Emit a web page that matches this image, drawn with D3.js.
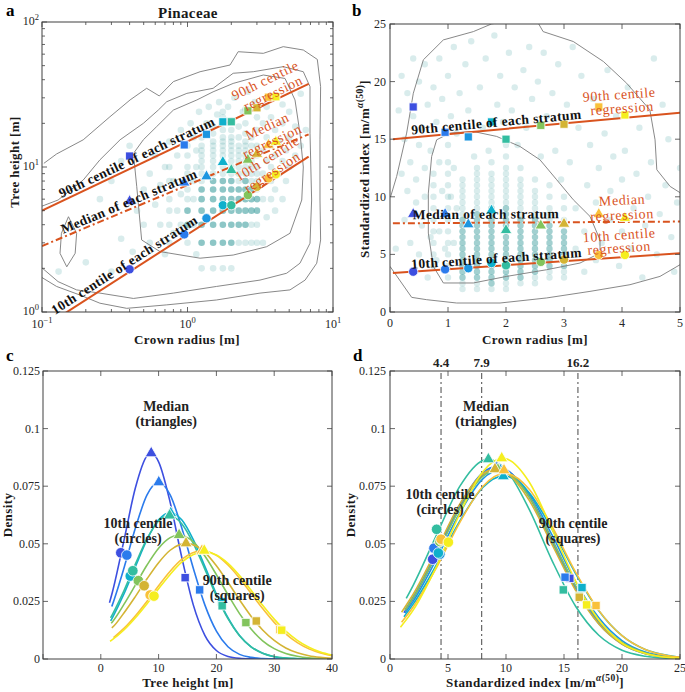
<!DOCTYPE html>
<html lang="en">
<head>
<meta charset="utf-8">
<script src="https://d3js.org/d3.v7.min.js"></script>
<style>
  body { margin: 0; background: white; }
  svg { font-family: 'Liberation Serif', 'Times New Roman', serif; background: white; }
  .frame { fill: none; stroke: #404040; stroke-width: 1; }
  .tk { stroke: #404040; stroke-width: 0.8; }
  .tl { font-size: 12px; fill: #262626; }
  .axl { font-size: 13px; font-weight: bold; letter-spacing: 0.4px; fill: #1a1a1a; }
  .note { font-size: 13.5px; font-weight: bold; letter-spacing: 0.4px; fill: #111; }
  .cnote { font-size: 14px; font-weight: bold; fill: #222; }
  .reg-note { font-size: 14px; fill: #d9531e; letter-spacing: 0.6px; }
  .contour { fill: none; stroke: #7a7a7a; stroke-width: 0.9; }
  .reg { fill: none; stroke: #d9531e; stroke-width: 2; }
  .dens { fill: none; stroke-width: 1.6; }
</style>
</head>
<body>
<svg width="685" height="692"></svg>
<script>
// colours of the nine crown-radius strata (blue -> yellow)
const strataColors = ["#3d4fe0", "#2b7bec", "#1d96e0", "#0fb0cc", "#33bda0", "#82c45c", "#d4b434", "#f9c13a", "#f5ee1e"];
const regColor = "#d9531e";
const dotColor = "#3f9f9f";

// ---------- panel a: tree height vs crown radius (log-log) ----------
const aRadius = [0.4, 0.95, 1.35, 1.75, 2.0, 2.6, 3.0, 3.6, 4.05];
const aP90 = [11.9, 14.2, 16.8, 20.5, 20.5, 24.4, 25.6, 30.3, 30.5];
const aP50 = [5.8, 7.8, 8.6, 10.8, 9.5, 11.2, 12.3, 14.2, 14.9];
const aP10 = [1.97, 3.43, 4.43, 5.45, 5.45, 6.4, 7.3, 8.35, 8.9];
const aReg90 = [[0.1, 5.0], [6.8, 37.4]];
const aReg50 = [[0.1, 2.85], [6.8, 16.8]];
const aReg10 = [[0.1, 0.775], [6.8, 11.8]];
const aXTicks = [0.1, 1, 10], aXExp = ["\u22121", "0", "1"];
const aYTicks = [1, 10, 100], aYExp = ["0", "1", "2"];

const aColumns = [
  {r: 0.75, h: [3, 4, 5, 6, 8, 10], dense: []},
  {r: 1.0, h: [3, 4, 5, 6, 7, 8, 9, 10, 12, 14], dense: [4, 5]},
  {r: 1.25, h: [2, 3, 4, 5, 6, 7, 8, 9, 10, 11, 12, 13, 14, 16], dense: [3, 4, 5, 6, 7]},
  {r: 1.5, h: [2, 3, 4, 5, 6, 7, 8, 9, 10, 11, 12, 13, 14, 15, 17, 19], dense: [3, 4, 5, 6, 7, 8]},
  {r: 1.75, h: [2, 3, 4, 5, 6, 7, 8, 9, 10, 11, 12, 13, 14, 15, 16, 18, 20, 22, 24], dense: [3, 4, 5, 6, 7, 8]},
  {r: 2.0, h: [2, 3, 4, 5, 6, 7, 8, 9, 10, 11, 12, 13, 14, 15, 16, 18, 21], dense: [3, 4, 5, 6, 7, 8]},
  {r: 2.25, h: [3, 4, 5, 6, 7, 8, 9, 10, 11, 12, 13, 14, 16, 19], dense: [4, 5, 6, 7]},
  {r: 2.5, h: [3, 4, 5, 6, 7, 8, 9, 10, 11, 12, 13, 14, 15, 17, 20, 25], dense: [4, 5, 6, 7, 8]},
  {r: 2.75, h: [3, 4, 5, 6, 7, 8, 9, 10, 11, 12, 14, 16], dense: [5, 6, 7]},
  {r: 3.0, h: [3, 4, 5, 6, 7, 8, 9, 10, 12, 14, 18, 22], dense: [5, 6]}
];
const aSparse = [
  [0.13, 1.9], [0.2, 2.2], [0.25, 6], [0.3, 1.9], [0.3, 8], [0.35, 3.2], [0.35, 11], [0.4, 14], [0.42, 2.6],
  [0.45, 5], [0.5, 4], [0.5, 7], [0.55, 3], [0.55, 9], [0.6, 5.5], [0.6, 12], [0.65, 4], [0.65, 7.5],
  [0.7, 2.5], [0.7, 10], [0.75, 15], [0.8, 3.5], [0.8, 8], [0.85, 5], [0.85, 12], [0.9, 4], [0.9, 6.5],
  [0.9, 18], [1.05, 20], [1.1, 4], [1.1, 6], [1.1, 8], [1.1, 16], [1.15, 2.5], [1.15, 10], [1.15, 13],
  [1.2, 24], [1.35, 20], [1.4, 26], [1.6, 23], [1.65, 28], [1.9, 26], [2.1, 30], [2.4, 24], [2.6, 33],
  [2.9, 28], [3.3, 3], [3.3, 6], [3.3, 9], [3.3, 13], [3.3, 20], [3.5, 4.5], [3.5, 11], [3.5, 16],
  [3.5, 26], [3.75, 6], [3.75, 8], [3.75, 10], [3.75, 14], [3.75, 22], [4.0, 5], [4.0, 7], [4.0, 12],
  [4.0, 18], [4.0, 30], [4.25, 9], [4.25, 15], [4.5, 6], [4.5, 11], [4.5, 20], [4.5, 27], [4.75, 8],
  [4.75, 13], [5.0, 10], [5.0, 16], [5.0, 24], [5.5, 12], [5.5, 19], [6.0, 14], [6.0, 32], [6.5, 18]
];
const aContours = [
  [[0.103, 10.6], [0.126, 12.3], [0.192, 15.4], [0.293, 22.2], [0.403, 29.0], [0.524, 34.9], [0.64, 30.9],
   [0.8, 38.8], [1.22, 45.4], [1.96, 50.5], [2.23, 62.4], [3.32, 60.8], [4.55, 67.6], [6.25, 64.1],
   [7.8, 55.2], [8.22, 35.8], [8.14, 15.4], [8.14, 5.92], [8.22, 3.14], [7.73, 2.17], [6.43, 1.66],
   [5.06, 1.42], [3.15, 1.35], [1.58, 1.21], [0.72, 1.12], [0.382, 1.06], [0.25, 1.15], [0.182, 1.31],
   [0.126, 1.5], [0.098, 1.75]],
  [[0.098, 5.33], [0.129, 5.92], [0.192, 8.13], [0.25, 11.2], [0.344, 15.4], [0.497, 20.0], [0.63, 24.7],
   [0.72, 28.2], [0.99, 32.2], [1.5, 34.9], [2.06, 44.3], [2.83, 45.4], [4.55, 49.2], [6.25, 45.4],
   [6.95, 35.8], [6.95, 17.1], [7.13, 5.92], [6.95, 2.98], [5.93, 2.17], [4.8, 1.85], [3.15, 1.66],
   [1.58, 1.5], [0.8, 1.35], [0.425, 1.24], [0.25, 1.35], [0.173, 1.42], [0.129, 1.62], [0.098, 2.05]],
  [[0.425, 12.4], [0.448, 7.31], [0.484, 3.14], [0.647, 2.61], [1.22, 2.35], [2.06, 2.47], [3.5, 2.82],
   [5.06, 3.49], [6.1, 5.92], [6.25, 10.0], [5.93, 17.1], [5.48, 29.0], [4.68, 40.8], [3.32, 43.1],
   [2.06, 37.7], [1.5, 33.0], [1.16, 29.0], [0.8, 24.7], [0.614, 19.0], [0.497, 15.4], [0.425, 12.4]],
  [[0.136, 3.49], [0.152, 4.54], [0.173, 3.49], [0.169, 2.54], [0.148, 2.05], [0.133, 2.54], [0.136, 3.49]]
];

// ---------- panel b: standardized index vs crown radius ----------
const bRadius = [0.4, 0.95, 1.35, 1.75, 2.0, 2.6, 3.0, 3.6, 4.05];
const bP90 = [17.8, 15.6, 15.2, 16.5, 15.0, 16.2, 16.3, 17.8, 17.1];
const bP50 = [8.5, 8.5, 7.6, 8.8, 7.1, 7.5, 7.65, 8.5, 8.15];
const bP10 = [3.5, 3.7, 3.8, 4.25, 4.05, 4.35, 4.55, 4.95, 4.95];
const bReg90 = [[0.05, 15.0], [5, 17.3]];
const bReg50 = [[0.05, 7.7], [5, 7.85]];
const bReg10 = [[0.05, 3.38], [5, 5.1]];
const bXTicks = [0, 1, 2, 3, 4, 5];
const bYTicks = [0, 5, 10, 15, 20, 25];

const bColumns = [
  {x: 0.75, v: [4, 5, 6, 7, 8, 9, 10, 11, 12], dense: []},
  {x: 1.0, v: [3, 4, 5, 6, 7, 8, 9, 10, 11, 12, 13], dense: []},
  {x: 1.25, v: [2, 2.5, 3, 3.5, 4, 4.5, 5, 5.5, 6, 6.5, 7, 7.5, 8, 8.5, 9, 9.5, 10, 10.5, 11, 11.5], dense: [3, 3.5, 4, 4.5, 5, 5.5, 6, 6.5, 7, 7.5, 8]},
  {x: 1.5, v: [2, 2.5, 3, 3.5, 4, 4.5, 5, 5.5, 6, 6.5, 7, 7.5, 8, 8.5, 9, 9.5, 10, 10.5, 11, 11.5, 12, 12.5], dense: [3, 3.5, 4, 4.5, 5, 5.5, 6, 6.5, 7, 7.5, 8, 8.5]},
  {x: 1.75, v: [2, 2.5, 3, 3.5, 4, 4.5, 5, 5.5, 6, 6.5, 7, 7.5, 8, 8.5, 9, 9.5, 10, 10.5, 11, 11.5, 12, 13], dense: [2.5, 3, 3.5, 4, 4.5, 5, 5.5, 6, 6.5, 7, 7.5, 8, 8.5, 9]},
  {x: 2.0, v: [2, 2.5, 3, 3.5, 4, 4.5, 5, 5.5, 6, 6.5, 7, 7.5, 8, 8.5, 9, 9.5, 10, 10.5, 11, 11.5, 12, 12.5, 13.5, 14.5], dense: [3, 3.5, 4, 4.5, 5, 5.5, 6, 6.5, 7, 7.5, 8, 8.5, 9]},
  {x: 2.25, v: [2.5, 3, 3.5, 4, 4.5, 5, 5.5, 6, 6.5, 7, 7.5, 8, 8.5, 9, 9.5, 10, 10.5, 11, 11.5, 12.5], dense: [3, 3.5, 4, 4.5, 5, 5.5, 6, 6.5, 7, 7.5, 8]},
  {x: 2.5, v: [2.5, 3, 3.5, 4, 4.5, 5, 5.5, 6, 6.5, 7, 7.5, 8, 8.5, 9, 9.5, 10, 10.5, 11.5], dense: [3.5, 4, 4.5, 5, 5.5, 6, 6.5, 7, 7.5, 8]},
  {x: 2.75, v: [3, 3.5, 4, 4.5, 5, 5.5, 6, 6.5, 7, 7.5, 8, 8.5, 9, 10, 11], dense: [4, 4.5, 5, 5.5, 6, 6.5, 7, 7.5]},
  {x: 3.0, v: [3, 3.5, 4, 4.5, 5, 5.5, 6, 6.5, 7, 8, 9, 10], dense: [4, 4.5, 5, 5.5, 6, 6.5, 7]}
];
const bSparse = [
  [0.1, 5.5], [0.15, 17.5], [0.2, 12], [0.2, 20.5], [0.25, 8], [0.25, 15], [0.3, 10.5], [0.3, 19],
  [0.35, 6], [0.35, 13], [0.4, 17], [0.4, 22], [0.45, 9.5], [0.45, 11.5], [0.5, 5], [0.5, 14.5], [0.5, 20],
  [0.55, 7.5], [0.55, 16], [0.6, 10], [0.6, 12.5], [0.6, 21.5], [0.65, 3], [0.65, 18], [0.7, 6.5],
  [0.7, 14], [0.75, 19.5], [0.8, 4.5], [0.8, 16.5], [0.85, 7], [0.85, 13], [0.85, 22], [0.9, 10.5],
  [0.9, 18.5], [0.95, 5.5], [1.0, 14.5], [1.0, 20.5], [1.05, 10], [1.05, 17], [1.1, 6], [1.1, 12.5],
  [1.1, 23], [1.15, 9], [1.15, 15.5], [1.2, 19], [1.3, 21.5], [1.35, 17.5], [1.4, 23.5], [1.45, 13.5],
  [1.55, 19.5], [1.6, 16], [1.65, 22], [1.7, 14], [1.8, 24], [1.85, 18], [1.9, 20.5], [1.95, 16.5],
  [2.05, 22.5], [2.1, 17.5], [2.15, 19.5], [2.2, 14.5], [2.3, 21], [2.35, 16], [2.4, 23], [2.45, 18.5],
  [2.55, 20], [2.6, 13.5], [2.65, 22.5], [2.7, 17], [2.8, 19], [2.85, 14], [2.9, 21.5], [2.95, 11.5],
  [3.05, 18], [3.1, 13], [3.15, 23], [3.2, 5.5], [3.2, 9], [3.25, 16], [3.3, 20.5], [3.35, 3.5],
  [3.35, 7], [3.4, 11], [3.45, 14.5], [3.5, 18.5], [3.55, 4.5], [3.55, 9.5], [3.6, 12.5], [3.65, 6],
  [3.7, 15.5], [3.75, 21], [3.8, 8], [3.8, 10.5], [3.85, 13.5], [3.9, 17], [3.95, 4], [4.0, 7],
  [4.0, 11.5], [4.05, 14], [4.1, 19.5], [4.15, 5.5], [4.2, 9], [4.25, 12], [4.3, 16], [4.35, 3],
  [4.4, 7.5], [4.45, 10], [4.5, 13], [4.55, 22], [4.6, 5], [4.65, 8.5], [4.7, 18], [4.75, 11],
  [4.8, 15], [4.85, 6.5], [4.9, 3.5], [4.95, 9.5], [5.0, 12.5]
];
const bContours = [
  [[0.01, 10.0], [0.115, 11.77], [0.287, 15.53], [0.402, 18.99], [0.575, 21.89], [0.92, 23.62],
   [1.437, 24.34], [1.753, 25.01], [2.13, 25.3], [2.53, 25.3], [2.64, 24.34], [3.16, 23.48], [3.68, 21.74],
   [4.08, 19.86], [4.48, 17.55], [4.57, 14.95], [4.6, 12.35], [4.83, 10.9], [5.05, 10.2]],
  [[5.05, 4.25], [4.655, 3.09], [4.138, 2.37], [3.448, 1.79], [2.701, 1.22], [1.897, 0.78], [1.149, 0.78],
   [0.632, 1.07], [0.374, 1.27], [0.0, 3.96]],
  [[0.805, 14.95], [1.034, 15.53], [1.437, 15.67], [1.839, 15.24], [2.241, 14.37], [2.586, 13.21],
   [2.874, 11.48], [3.161, 9.74], [3.448, 8.3], [3.621, 6.27], [3.621, 5.12], [3.276, 4.25], [2.701, 3.67],
   [2.011, 3.09], [1.437, 2.52], [0.92, 2.52], [0.747, 3.96], [0.661, 6.85], [0.661, 10.32], [0.718, 13.5],
   [0.805, 14.95]]
];

// ---------- panel c: densities of tree height ----------
const cColorIdx = [0, 1, 3, 4, 5, 6, 7, 8];
const cCurves = [
  [[1.5, .0244], [2, .0290], [4, .0514], [6, .0744], [8, .0882], [8.7, .0893], [10, .0856], [12, .0680], [14, .0442], [16, .0235], [18, .0103], [20, .0037], [22, .0011], [24, .0003], [26, .0001], [30, 0], [40, 0]],
  [[1.9, .0228], [2, .0235], [4, .0394], [6, .0570], [8, .0712], [10, .0767], [12, .0712], [14, .0570], [16, .0394], [18, .0235], [20, .0121], [22, .0053], [24, .0020], [26, .0007], [28, .0002], [30, 0], [40, 0]],
  [[1.7, .0165], [2, .0179], [4, .0282], [6, .0402], [8, .0518], [10, .0604], [12, .0635], [14, .0604], [16, .0518], [18, .0402], [20, .0282], [22, .0179], [24, .0102], [26, .0053], [28, .0025], [30, .0010], [32, .0004], [34, .0001], [36, 0], [40, 0]],
  [[1.7, .0179], [2, .0193], [4, .0296], [6, .0413], [8, .0522], [10, .0599], [11.8, .0623], [14, .0587], [16, .0502], [18, .0390], [20, .0274], [22, .0175], [24, .0101], [26, .0053], [28, .0025], [30, .0011], [32, .0004], [34, .0002], [36, 0], [40, 0]],
  [[1.8, .0155], [2, .0161], [4, .0237], [6, .0322], [8, .0408], [10, .0481], [12, .0527], [13.5, .0538], [16, .0508], [18, .0447], [20, .0366], [22, .0279], [24, .0197], [26, .0130], [28, .0079], [30, .0045], [32, .0024], [34, .0012], [36, .0005], [38, .0002], [40, .0001]],
  [[1.9, .0135], [2, .0137], [4, .0200], [6, .0272], [8, .0348], [10, .0418], [12, .0472], [14.8, .0502], [18, .0463], [20, .0405], [22, .0333], [24, .0257], [26, .0186], [28, .0126], [30, .0081], [32, .0048], [34, .0027], [36, .0014], [38, .0007], [40, .0003]],
  [[2.2, .0093], [4, .0133], [6, .0188], [8, .0251], [10, .0318], [12, .0381], [14, .0432], [17.5, .0470], [20, .0450], [22, .0408], [24, .0351], [26, .0285], [28, .0219], [30, .0159], [32, .0109], [34, .0071], [36, .0044], [38, .0026], [40, .0014]],
  [[1.6, .0077], [2, .0084], [4, .0126], [6, .0179], [8, .0240], [10, .0305], [12, .0367], [14, .0420], [17.9, .0465], [20, .0451], [22, .0415], [24, .0362], [26, .0298], [28, .0233], [30, .0173], [32, .0121], [34, .0081], [36, .0051], [38, .0030], [40, .0017]]
];
const cP10 = [[3.46, .0461], [4.5, .0451], [5.1, .036], [5.54, .0383], [6.5, .034], [7.5, .0318], [8.54, .0278], [9.2, .0273]];
const cP50 = [[8.72, .0893], [10.03, .0767], [12.1, .0633], [11.9, .0623], [13.55, .0538], [14.75, .0502], [17.5, .047], [17.9, .047]];
const cP90 = [[14.6, .0353], [17.1, .030], [20.9, .0249], [21.0, .0231], [25.1, .0158], [26.9, .0165], [31.0, .0128], [31.3, .0125]];
const cXTicks = [-10, 0, 10, 20, 30, 40], cXLabels = ["", "0", "10", "20", "30", "40"];
const densTicks = [0, 0.025, 0.05, 0.075, 0.1, 0.125];
const densLabels = ["0", "0.025", "0.05", "0.075", "0.1", "0.125"];

// ---------- panel d: densities of standardized index ----------
const dColorIdx = [0, 1, 2, 3, 4, 5, 6, 7, 8];
const dCurves = [
  [[1.2, .0201], [2, .0262], [4, .0452], [6, .0656], [8, .0800], [9.3, .0830], [10, .0821], [12, .0709], [14, .0515], [16, .0315], [18, .0162], [20, .0070], [22, .0025], [24, .0008], [25, .0004]],
  [[1.3, .0213], [2, .0269], [4, .0462], [6, .0667], [8, .0809], [9.2, .0835], [10, .0823], [12, .0703], [14, .0504], [16, .0304], [18, .0153], [20, .0065], [22, .0023], [24, .0007], [25, .0004]],
  [[1.3, .0199], [2, .0250], [4, .0433], [6, .0633], [8, .0782], [9.5, .0820], [10, .0816], [12, .0719], [14, .0535], [16, .0336], [18, .0179], [20, .0080], [22, .0030], [24, .0010], [25, .0005]],
  [[1.2, .0183], [2, .0238], [4, .0408], [6, .0597], [8, .0745], [9.8, .0795], [12, .0722], [14, .0560], [16, .0371], [18, .0209], [20, .0101], [22, .0041], [24, .0015], [25, .0008]],
  [[1.4, .0263], [2, .0320], [4, .0537], [6, .0748], [8, .0862], [8.5, .0867], [10, .0822], [12, .0649], [14, .0424], [16, .0229], [18, .0103], [20, .0038], [22, .0012], [24, .0003], [25, .0001]],
  [[1.3, .0211], [2, .0265], [4, .0453], [6, .0652], [8, .0793], [9.3, .0822], [10, .0813], [12, .0704], [14, .0514], [16, .0317], [18, .0165], [20, .0072], [22, .0027], [24, .0008], [25, .0004]],
  [[1.0, .0203], [2, .0281], [4, .0473], [6, .0671], [8, .0803], [9.1, .0824], [10, .0810], [12, .0689], [14, .0494], [16, .0298], [18, .0152], [20, .0065], [22, .0024], [24, .0007], [25, .0004]],
  [[1.0, .0160], [2, .0226], [4, .0396], [6, .0591], [8, .0749], [9.9, .0806], [12, .0737], [14, .0572], [16, .0377], [18, .0211], [20, .0101], [22, .0041], [24, .0014], [25, .0008]],
  [[0.9, .0138], [2, .0212], [4, .0401], [6, .0629], [8, .0813], [9.7, .0871], [10, .0869], [12, .0768], [14, .0560], [16, .0338], [18, .0169], [20, .0069], [22, .0024], [24, .0007], [25, .0003]]
];
const dP10 = [[3.68, .0433], [3.79, .0481], [4.3, .0455], [4.17, .046], [4.02, .0563], [4.3, .051], [4.45, .0516], [4.4, .052], [5.03, .0507]];
const dP50 = [[9.2, .0835], [9.2, .0835], [9.5, .082], [9.77, .0793], [8.48, .0867], [9.3, .0822], [9.05, .0824], [9.83, .0819], [9.63, .0871]];
const dP90 = [[15.5, .035], [15.09, .0355], [16.52, .0307], [16.55, .031], [14.94, .030], [16.3, .0272], [16.32, .0268], [17.76, .0232], [16.95, .0235]];
const dVLines = [4.4, 7.9, 16.2];
const dVLabels = ["4.4", "7.9", "16.2"];
const dXTicks = [0, 5, 10, 15, 20, 25];

// ---------- scales ----------
const svg = d3.select("svg");
const xA = d3.scaleLog().domain([0.1, 10]).range([42, 333]);
const yA = d3.scaleLog().domain([1, 100]).range([312, 22]);
const xB = d3.scaleLinear().domain([0, 5]).range([390, 680]);
const yB = d3.scaleLinear().domain([0, 25]).range([312, 24]);
const xC = d3.scaleLinear().domain([-10, 40]).range([43, 332]);
const yC = d3.scaleLinear().domain([0, 0.125]).range([659, 371]);
const xD = d3.scaleLinear().domain([0, 25]).range([390, 680]);
const yD = d3.scaleLinear().domain([0, 0.125]).range([659, 371]);

const defs = svg.append("defs");
function clipFor(id, x, y) {
  defs.append("clipPath").attr("id", id).append("rect")
    .attr("x", x.range()[0]).attr("y", y.range()[1])
    .attr("width", x.range()[1] - x.range()[0]).attr("height", y.range()[0] - y.range()[1]);
  return svg.append("g").attr("clip-path", `url(#${id})`);
}

function frame(x, y, xMajor, yMajor, xMinor, yMinor) {
  const g = svg.append("g");
  const [l, r] = x.range(), [b, t] = y.range();
  const tick = (x1, y1, x2, y2) => g.append("line").attr("class", "tk")
    .attr("x1", x1).attr("y1", y1).attr("x2", x2).attr("y2", y2);
  xMajor.forEach(v => { tick(x(v), b, x(v), b - 5); tick(x(v), t, x(v), t + 5); });
  xMinor.forEach(v => { tick(x(v), b, x(v), b - 3); tick(x(v), t, x(v), t + 3); });
  yMajor.forEach(v => { tick(l, y(v), l + 5, y(v)); tick(r, y(v), r - 5, y(v)); });
  yMinor.forEach(v => { tick(l, y(v), l + 3, y(v)); tick(r, y(v), r - 3, y(v)); });
  g.append("rect").attr("class", "frame").attr("x", l).attr("y", t).attr("width", r - l).attr("height", b - t);
  return g;
}

function dots(g, pts, x, y, r) {
  g.selectAll(null).data(pts).join("circle")
    .attr("cx", d => x(d[0])).attr("cy", d => y(d[1])).attr("r", r)
    .attr("fill", dotColor).attr("fill-opacity", d => 1 - Math.pow(0.8, d[2]));
}

function markers(g, pts, colors, type, size, x, y) {
  g.selectAll(null).data(pts).join("path")
    .attr("d", d3.symbol().type(type).size(size))
    .attr("transform", d => `translate(${x(d[0])},${y(d[1])})`)
    .attr("fill", (d, i) => colors[i]).attr("stroke", "white").attr("stroke-width", 0.8);
}

function regLine(g, seg, x, y, dashed) {
  g.append("path").attr("class", "reg")
    .attr("d", d3.line().x(d => x(d[0])).y(d => y(d[1]))(seg))
    .attr("stroke-dasharray", dashed ? "7,3,2,3" : null);
}

// text sitting along a regression line, at pixel x = px
function lineNote(seg, x, y, px, off, label) {
  const x0 = x(seg[0][0]), y0 = y(seg[0][1]), x1 = x(seg[1][0]), y1 = y(seg[1][1]);
  const py = y0 + (px - x0) * (y1 - y0) / (x1 - x0);
  const ang = Math.atan2(y1 - y0, x1 - x0) * 180 / Math.PI;
  svg.append("text").attr("class", "note").attr("text-anchor", "middle")
    .attr("transform", `translate(${px},${py}) rotate(${ang}) translate(0,${off})`).text(label);
}

function regNote(x, y, vx, vy, ang, label) {
  svg.append("text").attr("class", "reg-note").attr("text-anchor", "middle")
    .attr("transform", `translate(${x(vx)},${y(vy)}) rotate(${ang})`).attr("dy", "0.35em").text(label);
}

function twoLine(x, y, vx, vy, l1, l2) {
  const t = svg.append("text").attr("class", "cnote").attr("text-anchor", "middle");
  t.append("tspan").attr("x", x(vx)).attr("y", y(vy)).attr("dy", "0.35em").text(l1);
  t.append("tspan").attr("x", x(vx)).attr("y", y(vy) + 15).attr("dy", "0.35em").text(l2);
}

function powText(sel, exp) {
  sel.text("10");
  sel.append("tspan").attr("dy", -5).attr("font-size", 8.5).text(exp);
}

// ================= panel a =================
{
  const g = clipFor("clipA", xA, yA);
  const pts = aColumns.flatMap(c => c.h.map(h => [c.r, h, c.dense.includes(h) ? 4 : 1]))
    .concat(aSparse.map(p => [p[0], p[1], 1]));
  dots(g, pts, xA, yA, 3.3);
  const cl = d3.line().x(d => xA(d[0])).y(d => yA(d[1]));
  aContours.forEach(c => g.append("path").attr("class", "contour").attr("d", cl(c)));
  regLine(g, aReg90, xA, yA, false);
  regLine(g, aReg50, xA, yA, true);
  regLine(g, aReg10, xA, yA, false);
  const ms = svg.append("g");
  markers(ms, aRadius.map((r, i) => [r, aP90[i]]), strataColors, d3.symbolSquare, 66, xA, yA);
  markers(ms, aRadius.map((r, i) => [r, aP50[i]]), strataColors, d3.symbolTriangle, 58, xA, yA);
  markers(ms, aRadius.map((r, i) => [r, aP10[i]]), strataColors, d3.symbolCircle, 68, xA, yA);

  const minorX = xA.ticks().filter(v => !aXTicks.includes(v));
  const minorY = yA.ticks().filter(v => !aYTicks.includes(v));
  frame(xA, yA, aXTicks, aYTicks, minorX, minorY);
  aXTicks.forEach((v, i) => powText(svg.append("text").attr("class", "tl").attr("text-anchor", "middle")
    .attr("x", xA(v)).attr("y", 328), aXExp[i]));
  aYTicks.forEach((v, i) => powText(svg.append("text").attr("class", "tl").attr("text-anchor", "end")
    .attr("x", 39).attr("y", yA(v) + 3), aYExp[i]));

  lineNote(aReg90, xA, yA, 140, -3, "90th centile of each stratum");
  lineNote(aReg50, xA, yA, 132, -3, "Median of each stratum");
  lineNote(aReg10, xA, yA, 129, -4, "10th centile of each stratum");
  regNote(xA, yA, 3.41, 39.8, -26, "90th centile");
  regNote(xA, yA, 3.87, 32.4, -26, "regression");
  regNote(xA, yA, 3.52, 19.2, -25, "Median");
  regNote(xA, yA, 3.81, 15.1, -25, "regression");
  regNote(xA, yA, 3.52, 11.5, -32, "10th centile");
  regNote(xA, yA, 3.81, 9.24, -33, "regression");

  svg.append("text").attr("class", "axl").attr("text-anchor", "middle").attr("x", 188).attr("y", 18)
    .style("font-size", "15px").text("Pinaceae");
  svg.append("text").attr("class", "axl").attr("text-anchor", "middle").attr("x", 187).attr("y", 344)
    .text("Crown radius [m]");
  svg.append("text").attr("class", "axl").attr("text-anchor", "middle")
    .attr("transform", "translate(19,162) rotate(-90)").text("Tree height [m]");
}

// ================= panel b =================
{
  const g = clipFor("clipB", xB, yB);
  const pts = bColumns.flatMap(c => c.v.map(v => [c.x, v, c.dense.includes(v) ? 3 : 1]))
    .concat(bSparse.map(p => [p[0], p[1], 1]));
  dots(g, pts, xB, yB, 3.2);
  const cl = d3.line().x(d => xB(d[0])).y(d => yB(d[1]));
  bContours.forEach(c => g.append("path").attr("class", "contour").attr("d", cl(c)));
  regLine(g, bReg90, xB, yB, false);
  regLine(g, bReg50, xB, yB, true);
  regLine(g, bReg10, xB, yB, false);
  const ms = svg.append("g");
  markers(ms, bRadius.map((r, i) => [r, bP90[i]]), strataColors, d3.symbolSquare, 66, xB, yB);
  markers(ms, bRadius.map((r, i) => [r, bP50[i]]), strataColors, d3.symbolTriangle, 58, xB, yB);
  markers(ms, bRadius.map((r, i) => [r, bP10[i]]), strataColors, d3.symbolCircle, 68, xB, yB);

  frame(xB, yB, bXTicks, bYTicks, [], []);
  bXTicks.forEach(v => svg.append("text").attr("class", "tl").attr("text-anchor", "middle")
    .attr("x", xB(v)).attr("y", 327).text(v));
  bYTicks.forEach(v => svg.append("text").attr("class", "tl").attr("text-anchor", "end")
    .attr("x", 386).attr("y", yB(v) + 4).text(v));

  lineNote(bReg90, xB, yB, 497, -3, "90th centile of each stratum");
  lineNote(bReg50, xB, yB, 486, -4, "Median of each stratum");
  lineNote(bReg10, xB, yB, 497, -3, "10th centile of each stratum");
  regNote(xB, yB, 3.95, 18.9, -4, "90th centile");
  regNote(xB, yB, 4.0, 17.7, -4, "regression");
  regNote(xB, yB, 4.0, 9.74, -3, "Median");
  regNote(xB, yB, 4.0, 8.44, -3, "regression");
  regNote(xB, yB, 3.95, 6.7, -4, "10th centile");
  regNote(xB, yB, 3.95, 5.58, -4, "regression");

  svg.append("text").attr("class", "axl").attr("text-anchor", "middle").attr("x", 535).attr("y", 344)
    .text("Crown radius [m]");
  const yl = svg.append("text").attr("class", "axl").attr("text-anchor", "middle")
    .attr("transform", "translate(369,169) rotate(-90)").text("Standardized index [m/m");
  yl.append("tspan").attr("dy", -6).attr("font-size", 9.5).attr("font-style", "italic").text("\u03b1");
  yl.append("tspan").attr("font-size", 9.5).text("(50)");
  yl.append("tspan").attr("dy", 6).text("]");
}

// ================= panel c =================
{
  const g = clipFor("clipC", xC, yC);
  const line = d3.line().x(d => xC(d[0])).y(d => yC(d[1])).curve(d3.curveMonotoneX);
  cCurves.forEach((c, i) => g.append("path").attr("class", "dens")
    .attr("stroke", strataColors[cColorIdx[i]]).attr("d", line(c)));
  const cols = cColorIdx.map(k => strataColors[k]);
  const ms = svg.append("g");
  markers(ms, cP10, cols, d3.symbolCircle, 88, xC, yC);
  markers(ms, cP50, cols, d3.symbolTriangle, 64, xC, yC);
  markers(ms, cP90, cols, d3.symbolSquare, 70, xC, yC);

  frame(xC, yC, cXTicks, densTicks, [], []);
  cXTicks.forEach((v, i) => svg.append("text").attr("class", "tl").attr("text-anchor", "middle")
    .attr("x", xC(v)).attr("y", 672).text(cXLabels[i]));
  densTicks.forEach((v, i) => svg.append("text").attr("class", "tl").attr("text-anchor", "end")
    .attr("x", 40).attr("y", yC(v) + 4).text(densLabels[i]));

  twoLine(xC, yC, 11.3, 0.1098, "Median", "(triangles)");
  twoLine(xC, yC, 6.44, 0.059, "10th centile", "(circles)");
  twoLine(xC, yC, 23.6, 0.0343, "90th centile", "(squares)");

  svg.append("text").attr("class", "axl").attr("text-anchor", "middle").attr("x", 188).attr("y", 687)
    .text("Tree height [m]");
  svg.append("text").attr("class", "axl").attr("text-anchor", "middle")
    .attr("transform", "translate(12,515) rotate(-90)").text("Density");
}

// ================= panel d =================
{
  const g = clipFor("clipD", xD, yD);
  dVLines.forEach(v => g.append("line").attr("x1", xD(v)).attr("x2", xD(v))
    .attr("y1", yD(0)).attr("y2", yD(0.125)).attr("stroke", "#666").attr("stroke-width", 1.2)
    .attr("stroke-dasharray", "6,3,2,3"));
  const line = d3.line().x(d => xD(d[0])).y(d => yD(d[1])).curve(d3.curveMonotoneX);
  dCurves.forEach((c, i) => g.append("path").attr("class", "dens")
    .attr("stroke", strataColors[dColorIdx[i]]).attr("d", line(c)));
  const cols = dColorIdx.map(k => strataColors[k]);
  const ms = svg.append("g");
  markers(ms, dP10, cols, d3.symbolCircle, 88, xD, yD);
  markers(ms, dP50, cols, d3.symbolTriangle, 64, xD, yD);
  markers(ms, dP90, cols, d3.symbolSquare, 70, xD, yD);

  frame(xD, yD, dXTicks, densTicks, [], []);
  dXTicks.forEach(v => svg.append("text").attr("class", "tl").attr("text-anchor", "middle")
    .attr("x", xD(v)).attr("y", 672).text(v));
  densTicks.forEach((v, i) => svg.append("text").attr("class", "tl").attr("text-anchor", "end")
    .attr("x", 386).attr("y", yD(v) + 4).text(densLabels[i]));
  dVLines.forEach((v, i) => svg.append("text").attr("class", "cnote").style("font-size", "13px")
    .attr("text-anchor", "middle").attr("x", xD(v)).attr("y", 367).text(dVLabels[i]));

  twoLine(xD, yD, 8.28, 0.1098, "Median", "(triangles)");
  twoLine(xD, yD, 4.31, 0.0716, "10th centile", "(circles)");
  twoLine(xD, yD, 15.78, 0.059, "90th centile", "(squares)");

  const xl = svg.append("text").attr("class", "axl").attr("text-anchor", "middle")
    .attr("x", 535).attr("y", 687).text("Standardized index [m/m");
  xl.append("tspan").attr("dy", -6).attr("font-size", 9.5).attr("font-style", "italic").text("\u03b1");
  xl.append("tspan").attr("font-size", 9.5).text("(50)");
  xl.append("tspan").attr("dy", 6).text("]");
  svg.append("text").attr("class", "axl").attr("text-anchor", "middle")
    .attr("transform", "translate(355,515) rotate(-90)").text("Density");
}

// panel letters
[["a", 6, 16], ["b", 352, 16], ["c", 6, 361], ["d", 353, 361]].forEach(([t, x, y]) =>
  svg.append("text").attr("x", x).attr("y", y).attr("font-weight", "bold").attr("font-size", 17).text(t));
</script>
</body>
</html>
